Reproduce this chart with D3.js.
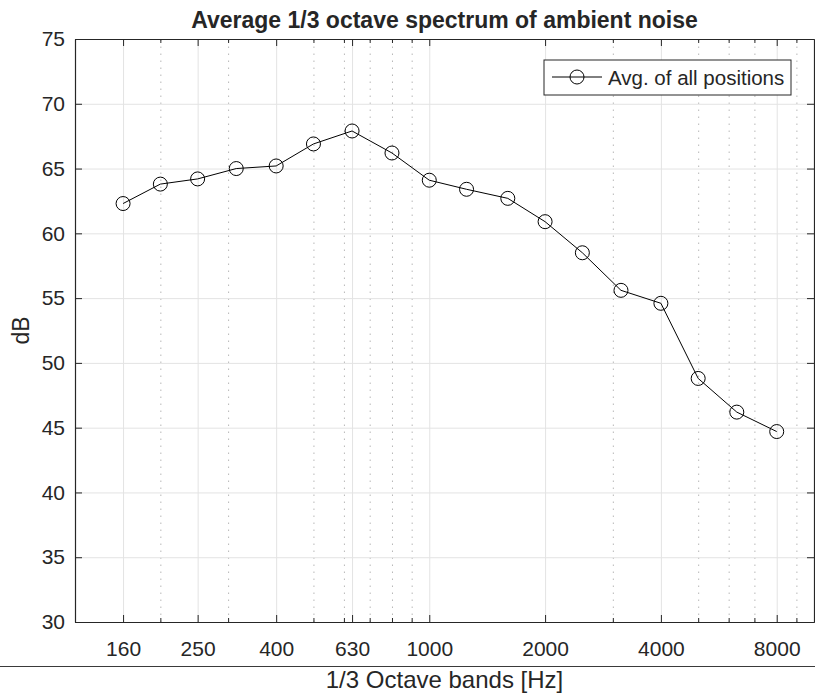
<!DOCTYPE html>
<html>
<head>
<meta charset="utf-8">
<script src="https://cdn.jsdelivr.net/npm/d3@7/dist/d3.min.js"></script>
<style>
  html, body { margin: 0; padding: 0; background: #fff; }
  svg { display: block; }
  text { font-family: "Liberation Sans", Arial, Helvetica, sans-serif; fill: #262626; }
</style>
</head>
<body>
<script>
// 1/3 octave band centre frequencies (Hz) and averaged level (dB)
const bands  = [160, 200, 250, 315, 400, 500, 630, 800, 1000, 1250, 1600, 2000, 2500, 3150, 4000, 5000, 6300, 8000];
const levels = [62.3, 63.8, 64.2, 65.0, 65.2, 66.9, 67.9, 66.2, 64.1, 63.4, 62.7, 60.9, 58.5, 55.6, 54.6, 48.8, 46.2, 44.7];

// Axis ticks
const xMajorTicks = [160, 250, 400, 630, 1000, 2000, 4000, 8000];
const xMinorTicks = [200, 300, 500, 600, 700, 800, 900, 3000, 5000, 6000, 7000, 9000];
const yTicks = [30, 35, 40, 45, 50, 55, 60, 65, 70, 75];
const xDomain = [120, 10000];
const yDomain = [30, 75];

const titleText = "Average 1/3 octave spectrum of ambient noise";
const xLabelText = "1/3 Octave bands [Hz]";
const yLabelText = "dB";
const legendText = "Avg. of all positions";

const W = 815, H = 697;
const m = { left: 75, top: 39, right: 1, bottom: 75 };
const pw = W - m.left - m.right, ph = H - m.top - m.bottom;
const FONT = '"Liberation Sans", Arial, Helvetica, sans-serif';

const svg = d3.select("body").append("svg").attr("width", W).attr("height", H);

const x = d3.scaleLog().domain(xDomain).range([0, pw]);
const y = d3.scaleLinear().domain(yDomain).range([ph, 0]);

const g = svg.append("g").attr("transform", `translate(${m.left},${m.top})`);
const axisColor = "#262626";

// minor grid (dotted)
g.append("g").attr("class", "minor-grid")
  .attr("transform", `translate(0,${ph})`)
  .call(d3.axisBottom(x).tickValues(xMinorTicks).tickSize(-ph).tickFormat(""))
  .call(s => s.select(".domain").remove())
  .call(s => s.selectAll("line").attr("stroke", "#b8b8b8").attr("stroke-width", 1).attr("stroke-dasharray", "1.5,5.5"));

// major grid
g.append("g").attr("class", "x-grid")
  .attr("transform", `translate(0,${ph})`)
  .call(d3.axisBottom(x).tickValues(xMajorTicks).tickSize(-ph).tickFormat(""))
  .call(s => s.select(".domain").remove())
  .call(s => s.selectAll("line").attr("stroke", "#e3e3e3").attr("stroke-width", 1));
g.append("g").attr("class", "y-grid")
  .call(d3.axisLeft(y).tickValues(yTicks).tickSize(-pw).tickFormat(""))
  .call(s => s.select(".domain").remove())
  .call(s => s.selectAll("line").attr("stroke", "#e3e3e3").attr("stroke-width", 1));

function styleAxis(s) {
  s.select(".domain").attr("stroke", axisColor).attr("stroke-width", 1.2);
  s.selectAll("line").attr("stroke", axisColor).attr("stroke-width", 1);
  s.selectAll("text").attr("fill", axisColor).style("font-size", "21px").style("font-family", FONT);
}

// bottom axis: minor ticks, then major ticks with labels
g.append("g").attr("transform", `translate(0,${ph})`)
  .call(d3.axisBottom(x).tickValues(xMinorTicks).tickSizeInner(-4).tickSizeOuter(0).tickFormat(""))
  .call(styleAxis);
g.append("g").attr("transform", `translate(0,${ph})`)
  .call(d3.axisBottom(x).tickValues(xMajorTicks).tickSizeInner(-7).tickSizeOuter(0).tickPadding(19).tickFormat(d3.format("d")))
  .call(styleAxis);
// top axis
g.append("g")
  .call(d3.axisTop(x).tickValues(xMinorTicks).tickSizeInner(-4).tickSizeOuter(0).tickFormat(""))
  .call(styleAxis);
g.append("g")
  .call(d3.axisTop(x).tickValues(xMajorTicks).tickSizeInner(-7).tickSizeOuter(0).tickFormat(""))
  .call(styleAxis);
// left axis
g.append("g")
  .call(d3.axisLeft(y).tickValues(yTicks).tickSizeInner(-7).tickSizeOuter(0).tickPadding(10).tickFormat(d3.format("d")))
  .call(styleAxis);
// right axis
g.append("g").attr("transform", `translate(${pw},0)`)
  .call(d3.axisRight(y).tickValues(yTicks).tickSizeInner(-7).tickSizeOuter(0).tickFormat(""))
  .call(styleAxis);

// data line and circle markers
const line = d3.line().x((d, i) => x(bands[i])).y(d => y(d));
g.append("path").datum(levels)
  .attr("d", line).attr("fill", "none").attr("stroke", "#000").attr("stroke-width", 1);
g.selectAll("circle.pt").data(levels).join("circle")
  .attr("class", "pt")
  .attr("cx", (d, i) => x(bands[i])).attr("cy", d => y(d))
  .attr("r", 7).attr("fill", "none").attr("stroke", "#000").attr("stroke-width", 1);

// legend
const lg = svg.append("g").attr("transform", "translate(544,60)");
lg.append("rect").attr("width", 247).attr("height", 35)
  .attr("fill", "#fff").attr("stroke", axisColor).attr("stroke-width", 1);
lg.append("line").attr("x1", 8).attr("x2", 58).attr("y1", 17).attr("y2", 17)
  .attr("stroke", "#000").attr("stroke-width", 1);
lg.append("circle").attr("cx", 33).attr("cy", 17).attr("r", 7)
  .attr("fill", "none").attr("stroke", "#000").attr("stroke-width", 1);
lg.append("text").attr("x", 64).attr("y", 25).style("font-size", "20.5px").text(legendText);

// title and axis labels
svg.append("text").attr("x", m.left + pw / 2).attr("y", 28)
  .attr("text-anchor", "middle").style("font-size", "23px").style("font-weight", "bold")
  .attr("fill", "#000").text(titleText);
svg.append("text").attr("x", m.left + pw / 2).attr("y", 688)
  .attr("text-anchor", "middle").style("font-size", "24px").text(xLabelText);
svg.append("text").attr("transform", `translate(29,${m.top + ph / 2}) rotate(-90)`)
  .attr("text-anchor", "middle").style("font-size", "23px").text(yLabelText);

// separator rule under the tick labels
svg.append("line").attr("x1", 0).attr("x2", W).attr("y1", 666.5).attr("y2", 666.5)
  .attr("stroke", "#3a3a3a").attr("stroke-width", 1);
</script>
</body>
</html>
